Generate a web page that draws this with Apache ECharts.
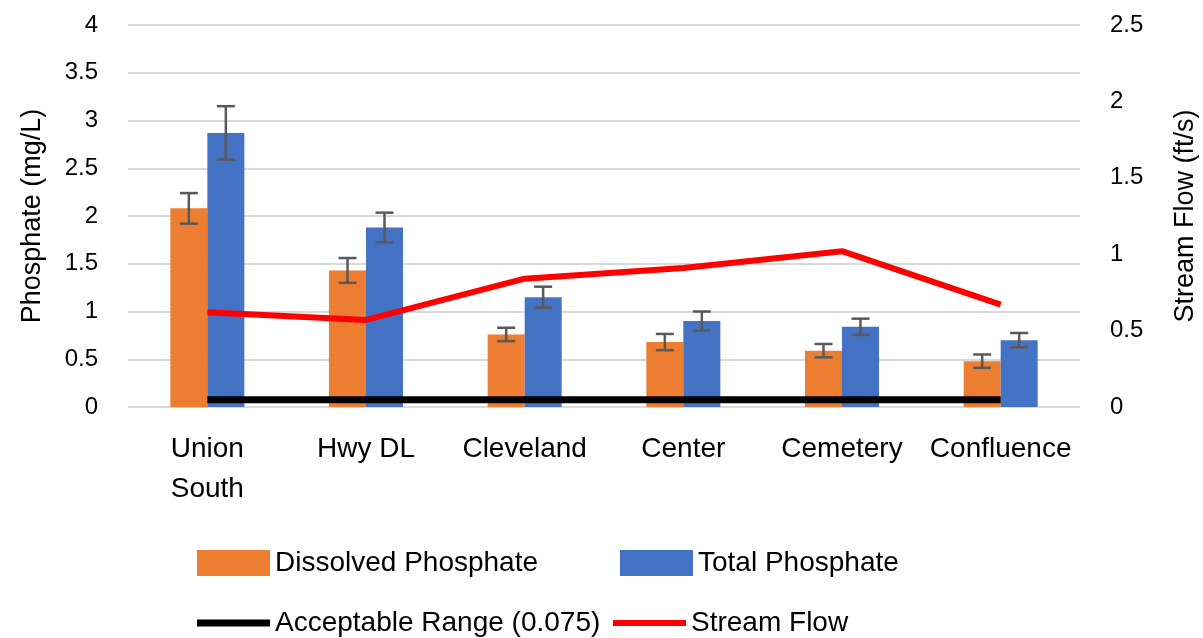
<!DOCTYPE html>
<html>
<head>
<meta charset="utf-8">
<title>Phosphate and Stream Flow</title>
<script src="https://cdn.jsdelivr.net/npm/echarts@6/dist/echarts.min.js"></script>
<style>
    html, body { margin: 0; padding: 0; background: #fff; }
    #main { width: 1203px; height: 638px; }
</style>
</head>
<body>
<div id="main"></div>
<script>
// sites along the creek
var sites = ['Union\nSouth', 'Hwy DL', 'Cleveland', 'Center', 'Cemetery', 'Confluence'];

// phosphate (mg/L) and +/- error
var dissolved = [2.08, 1.43, 0.76, 0.68, 0.59, 0.48];
var dissolvedErr = [0.16, 0.13, 0.07, 0.085, 0.07, 0.07];
var total = [2.87, 1.88, 1.15, 0.9, 0.84, 0.7];
var totalErr = [0.28, 0.155, 0.11, 0.1, 0.085, 0.075];

// acceptable limit and stream flow (ft/s)
var acceptable = [0.075, 0.075, 0.075, 0.075, 0.075, 0.075];
var streamFlow = [0.62, 0.57, 0.84, 0.91, 1.02, 0.67];

// axis ticks
var leftTicks = { min: 0, max: 4, interval: 0.5 };
var rightTicks = { min: 0, max: 2.5, interval: 0.5 };

var font = 'Liberation Sans';
var barW = 37;

function errorBars(vals, errs, side) {
    var data = vals.map(function(v, i) { return [i, v - errs[i], v + errs[i]]; });
    return {
        type: 'custom',
        name: 'err' + side,
        z: 5,
        silent: true,
        data: data,
        renderItem: function(params, api) {
            var lo = api.coord([api.value(0), api.value(1)]);
            var hi = api.coord([api.value(0), api.value(2)]);
            var x = lo[0] + side * barW / 2;
            var cap = 9;
            var st = { stroke: '#595959', lineWidth: 2.5 };
            return {
                type: 'group',
                children: [
                    { type: 'line', shape: { x1: x, y1: lo[1], x2: x, y2: hi[1] }, style: st },
                    { type: 'line', shape: { x1: x - cap, y1: lo[1], x2: x + cap, y2: lo[1] }, style: st },
                    { type: 'line', shape: { x1: x - cap, y1: hi[1], x2: x + cap, y2: hi[1] }, style: st }
                ]
            };
        }
    };
}

var myChart = echarts.init(document.getElementById('main'));
var legendText = { fontFamily: font, fontSize: 28, color: '#000' };
var option = {
    animation: false,
    textStyle: { fontFamily: font },
    grid: { left: 128, right: 123, top: 25, bottom: 231, containLabel: false, outerBoundsMode: 'none' },
    legend: [
        { data: ['Dissolved Phosphate'], left: 192, top: 544, itemWidth: 73, itemHeight: 26, itemGap: 0, textStyle: legendText, icon: 'rect' },
        { data: ['Total Phosphate'], left: 615, top: 544, itemWidth: 73, itemHeight: 26, itemGap: 0, textStyle: legendText, icon: 'rect' },
        { data: ['Acceptable Range (0.075)'], left: 192, top: 604, itemWidth: 73, itemHeight: 7, itemGap: 0, textStyle: legendText, icon: 'rect' },
        { data: ['Stream Flow'], left: 608, top: 604, itemWidth: 73, itemHeight: 6, itemGap: 0, textStyle: legendText, icon: 'rect' }
    ],
    xAxis: {
        type: 'category',
        data: sites,
        axisLine: { show: false },
        axisTick: { show: false },
        axisLabel: { fontSize: 28, color: '#000', margin: 22, lineHeight: 40, interval: 0 }
    },
    yAxis: [{
        type: 'value',
        min: leftTicks.min,
        max: leftTicks.max,
        interval: leftTicks.interval,
        name: 'Phosphate (mg/L)',
        nameLocation: 'middle',
        nameRotate: 90,
        nameGap: 82,
        nameTextStyle: { fontSize: 27, color: '#000' },
        axisLabel: { fontSize: 24, color: '#000', margin: 30 },
        splitLine: { lineStyle: { color: '#d9d9d9', width: 2 } }
    }, {
        type: 'value',
        min: rightTicks.min,
        max: rightTicks.max,
        interval: rightTicks.interval,
        name: 'Stream Flow (ft/s)',
        nameLocation: 'middle',
        nameRotate: 90,
        nameGap: 92,
        nameTextStyle: { fontSize: 27, color: '#000' },
        axisLabel: { fontSize: 24, color: '#000', margin: 30 },
        splitLine: { show: false }
    }],
    series: [{
            name: 'Dissolved Phosphate',
            type: 'bar',
            data: dissolved,
            barWidth: barW,
            barGap: '0%',
            itemStyle: { color: '#ed7d31' }
        },
        {
            name: 'Total Phosphate',
            type: 'bar',
            data: total,
            barWidth: barW,
            barGap: '0%',
            itemStyle: { color: '#4472c4' }
        },
        errorBars(dissolved, dissolvedErr, -1),
        errorBars(total, totalErr, 1),
        {
            name: 'Acceptable Range (0.075)',
            type: 'line',
            data: acceptable,
            symbol: 'none',
            z: 6,
            lineStyle: { color: '#000', width: 7 },
            itemStyle: { color: '#000' }
        },
        {
            name: 'Stream Flow',
            type: 'line',
            yAxisIndex: 1,
            data: streamFlow,
            symbol: 'none',
            z: 7,
            lineStyle: { color: '#ff0000', width: 6 },
            itemStyle: { color: '#ff0000' }
        }
    ]
};
myChart.setOption(option);
window.onresize = function() {
    myChart.resize();
};
</script>
</body>
</html>
